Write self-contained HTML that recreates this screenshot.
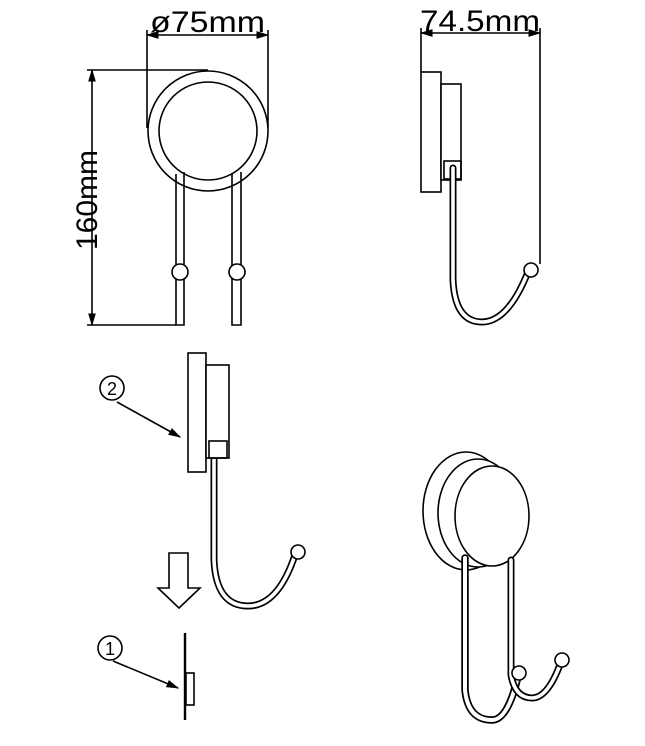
<!DOCTYPE html>
<html><head><style>html,body{margin:0;padding:0;background:#fff}svg{display:block}</style></head>
<body>
<svg width="645" height="746" viewBox="0 0 645 746" xmlns="http://www.w3.org/2000/svg" font-family="Liberation Sans, sans-serif">
<defs>
<marker id="ah" viewBox="0 0 10 10" refX="9" refY="5" markerWidth="8" markerHeight="8" orient="auto-start-reverse"><path d="M0,2 L10,5 L0,8 z" fill="#000"/></marker>
</defs>
<g fill="none" stroke="#000" stroke-width="1.6">
<!-- View 1 -->
<line x1="147" y1="35" x2="268" y2="35" marker-start="url(#ah)" marker-end="url(#ah)"/>
<line x1="147" y1="30" x2="147" y2="128"/>
<line x1="268" y1="30" x2="268" y2="128"/>
<line x1="92" y1="70" x2="92" y2="325" marker-start="url(#ah)" marker-end="url(#ah)"/>
<line x1="87" y1="70" x2="208" y2="70"/>
<line x1="87" y1="325" x2="176" y2="325"/>
<circle cx="208" cy="131" r="60" fill="#fff"/>
<circle cx="208" cy="131" r="49"/>
<path d="M176 174 V325 H184 V172"/>
<path d="M232 174 V325 H241 V172"/>
<circle cx="180" cy="272" r="8" fill="#fff"/>
<circle cx="237" cy="272" r="8" fill="#fff"/>
<!-- View 2 -->
<line x1="421" y1="33" x2="540" y2="33" marker-start="url(#ah)" marker-end="url(#ah)"/>
<line x1="421" y1="28" x2="421" y2="72"/>
<line x1="540" y1="28" x2="540" y2="264"/>
<rect x="421" y="72" width="20" height="120" fill="#fff"/>
<rect x="441" y="84" width="20" height="96" fill="#fff"/>
<rect x="444" y="161" width="17" height="18"/>
</g>
<g fill="none" stroke-linecap="round">
<path d="M453 168 V280 Q455 322 482 322 Q508 322 528 272" stroke="#000" stroke-width="7"/>
<path d="M453 168 V280 Q455 322 482 322 Q508 322 528 272" stroke="#fff" stroke-width="3.6"/>
<path d="M214 452 V560 Q216 606 248 606 Q278 606 295 555" stroke="#000" stroke-width="7"/>
<path d="M214 452 V560 Q216 606 248 606 Q278 606 295 555" stroke="#fff" stroke-width="3.6"/>
</g>
<g fill="none" stroke="#000" stroke-width="1.6">
<circle cx="531" cy="270" r="7" fill="#fff"/>
<!-- View 3 -->
<rect x="188" y="353" width="18" height="119" fill="#fff"/>
<rect x="206" y="365" width="23" height="93" fill="#fff"/>
<rect x="209" y="441" width="18" height="17"/>
<circle cx="298" cy="552" r="7" fill="#fff"/>
<circle cx="112" cy="388" r="12"/>
<line x1="117" y1="402" x2="180" y2="437" marker-end="url(#ah)"/>
<path d="M169 553 H188 V588 H200 L179 608 L158 588 H169 Z"/>
<line x1="185" y1="633" x2="185" y2="720" stroke-width="2.4"/>
<rect x="186" y="673" width="8" height="32"/>
<circle cx="110" cy="648" r="12"/>
<line x1="113" y1="661" x2="178" y2="688" marker-end="url(#ah)"/>
<!-- View 4 -->
<ellipse cx="466" cy="511" rx="43" ry="59" fill="#fff"/>
<ellipse cx="478" cy="513" rx="40" ry="54" fill="#fff"/>
<ellipse cx="492" cy="516" rx="37" ry="50" fill="#fff"/>
</g>
<g fill="none" stroke-linecap="round">
<path d="M465 558 V690 Q468 720 492 720 Q508 720 518 676" stroke="#000" stroke-width="7.5"/>
<path d="M465 558 V690 Q468 720 492 720 Q508 720 518 676" stroke="#fff" stroke-width="4"/>
<path d="M511 560 V675 Q515 698 532 698 Q548 698 561 662" stroke="#000" stroke-width="7"/>
<path d="M511 560 V675 Q515 698 532 698 Q548 698 561 662" stroke="#fff" stroke-width="3.6"/>
</g>
<g fill="#fff" stroke="#000" stroke-width="1.6">
<circle cx="519" cy="673" r="7"/>
<circle cx="562" cy="660" r="7"/>
</g>
<g fill="#000" font-size="30">
<text x="150" y="32" textLength="115" lengthAdjust="spacingAndGlyphs">ø75mm</text>
<text x="420" y="31" textLength="120" lengthAdjust="spacingAndGlyphs">74.5mm</text>
<text transform="translate(97,200) rotate(-90)" text-anchor="middle" textLength="100" lengthAdjust="spacingAndGlyphs">160mm</text>
<text x="112" y="395" font-size="18" text-anchor="middle">2</text>
<text x="110" y="655" font-size="18" text-anchor="middle">1</text>
</g>
</svg>
</body></html>
